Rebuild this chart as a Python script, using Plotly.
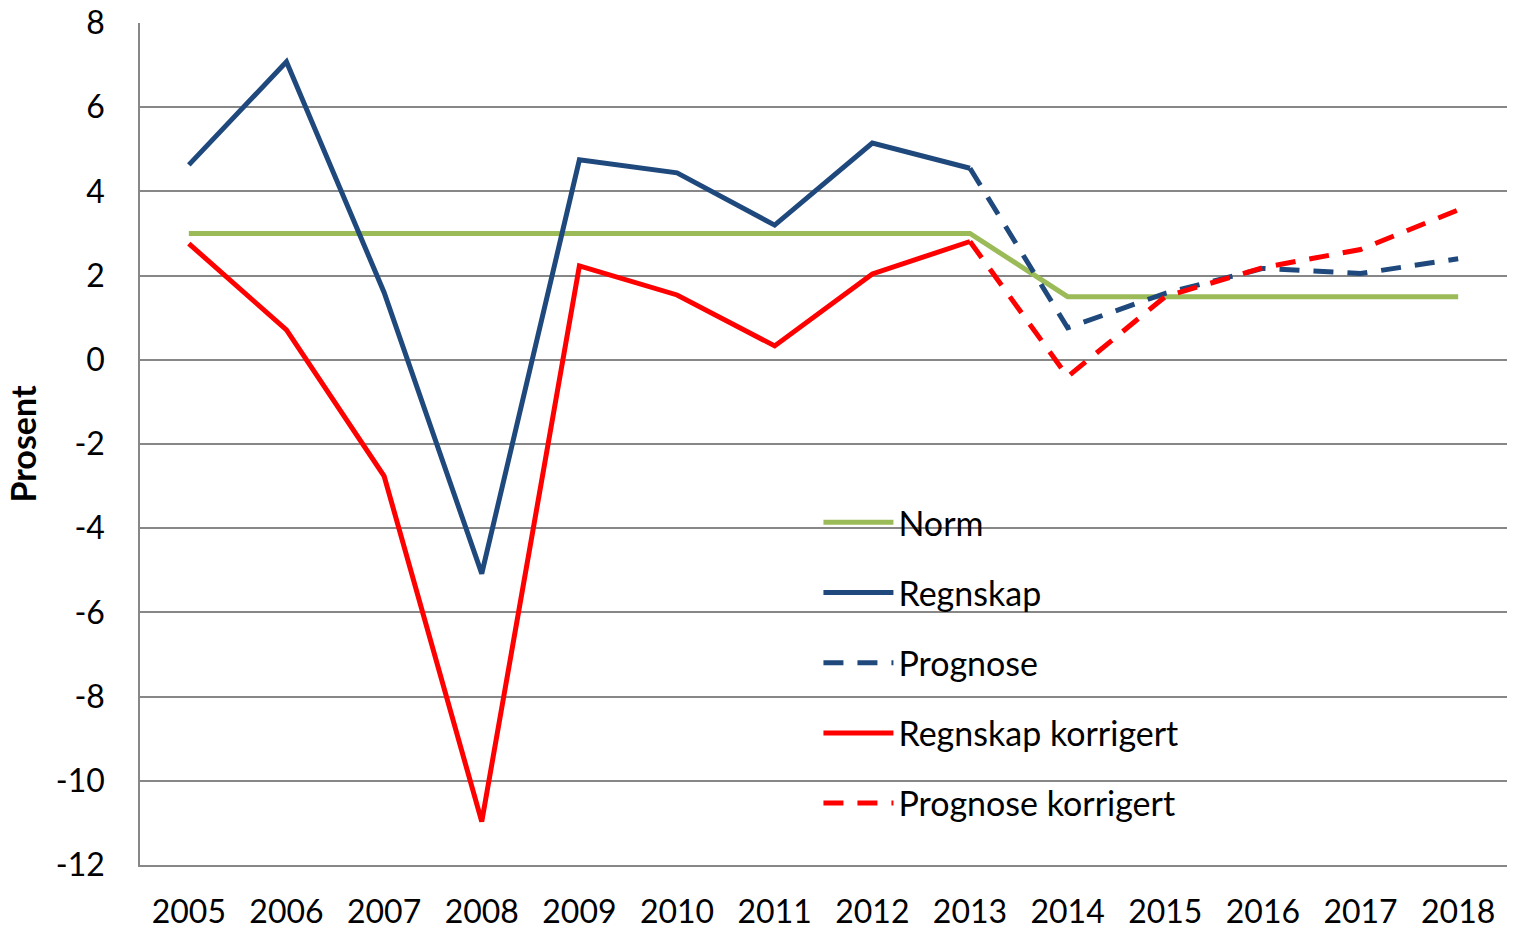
import plotly.graph_objects as go

years = ["2005", "2006", "2007", "2008", "2009", "2010", "2011", "2012", "2013",
         "2014", "2015", "2016", "2017", "2018"]
norm = [3.0, 3.0, 3.0, 3.0, 3.0, 3.0, 3.0, 3.0, 3.0, 1.5, 1.5, 1.5, 1.5, 1.5]
regnskap = [4.63, 7.08, 1.6, -5.08, 4.75, 4.44, 3.2, 5.15, 4.55,
            None, None, None, None, None]
prognose = [None, None, None, None, None, None, None, None, 4.55,
            0.76, 1.58, 2.17, 2.05, 2.40]
regnskap_korr = [2.76, 0.71, -2.76, -10.97, 2.23, 1.54, 0.33, 2.04, 2.81,
                 None, None, None, None, None]
prognose_korr = [None, None, None, None, None, None, None, None, 2.81,
                 -0.4, 1.5, 2.19, 2.62, 3.56]
y_ticks = [8, 6, 4, 2, 0, -2, -4, -6, -8, -10, -12]
y_tick_labels = ["8", "6", "4", "2", "0", "-2", "-4", "-6", "-8", "-10", "-12"]

GREEN = "#9BBB59"
BLUE = "#1F497D"
RED = "#FF0000"
GRID = "#878787"
FONT = "Lato"

fig = go.Figure()
series = [
    ("Norm", norm, GREEN, "solid"),
    ("Regnskap", regnskap, BLUE, "solid"),
    ("Prognose", prognose, BLUE, "20px,14px"),
    ("Regnskap korrigert", regnskap_korr, RED, "solid"),
    ("Prognose korrigert", prognose_korr, RED, "20px,14px"),
]
for name, vals, color, dash in series:
    fig.add_trace(go.Scatter(
        x=years, y=vals, name=name, mode="lines",
        line=dict(color=color, width=5, dash=dash),
        legendgroup=name, connectgaps=False,
    ))

fig.update_layout(
    width=1514, height=929,
    margin=dict(l=140, r=7, t=23, b=64),
    plot_bgcolor="white", paper_bgcolor="white",
    font=dict(family=FONT, size=32, color="black"),
    showlegend=True,
    legend=dict(
        x=0.4963, y=0.441, xanchor="left", yanchor="top",
        bgcolor="rgba(0,0,0,0)", tracegroupgap=23,
        itemwidth=70, font=dict(family=FONT, size=34),
    ),
)
fig.update_xaxes(
    type="category", range=[-0.5, 13.5], automargin=False,
    showgrid=False, showline=True, linecolor=GRID, linewidth=1.5,
    ticks="", ticklabelstandoff=18,
)
fig.update_yaxes(
    range=[-12, 8], tickvals=y_ticks, ticktext=y_tick_labels, automargin=False,
    showgrid=True, gridcolor=GRID, gridwidth=1.5,
    zeroline=False, showline=True, linecolor=GRID, linewidth=1.5, ticks="",
    ticklabelstandoff=27,
    title=dict(text="<b>Prosent</b>", font=dict(family=FONT, size=34), standoff=9),
)

fig.write_html("out.html", config={"displayModeBar": False},
               post_script="document.body.style.margin='0';")
